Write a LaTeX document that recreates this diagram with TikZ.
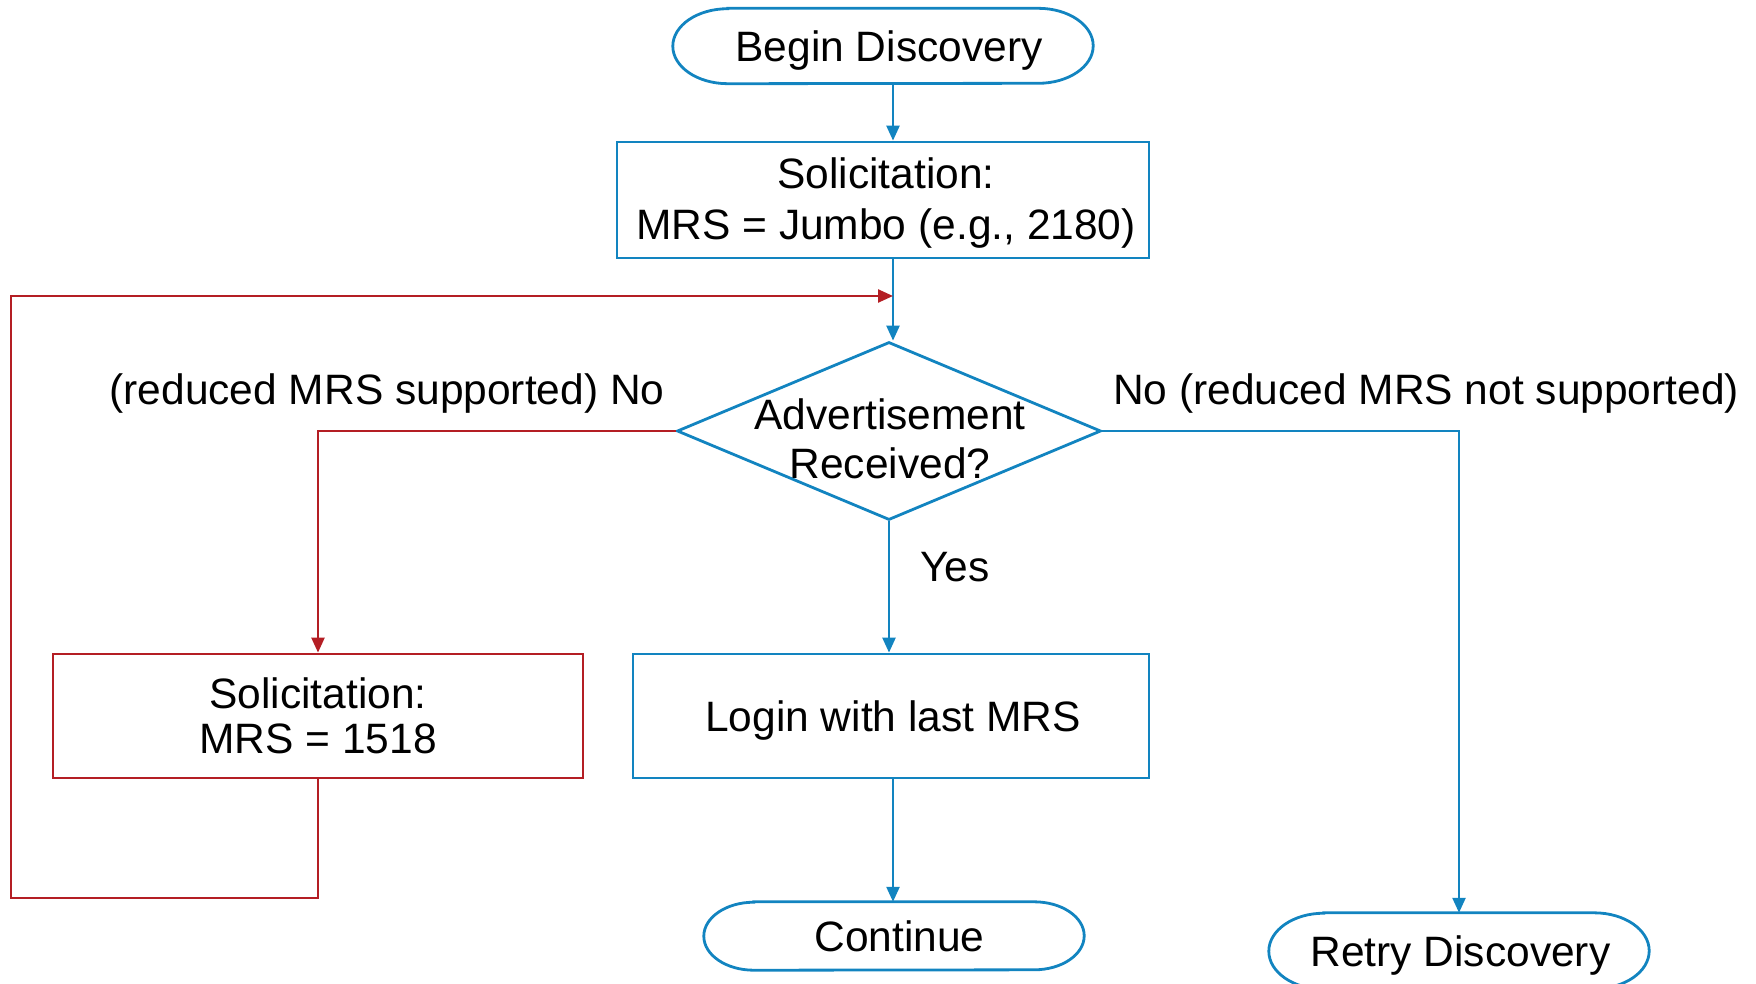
\documentclass[tikz,border=0pt]{standalone}
\usepackage{fontspec}
\setmainfont{Liberation Sans}
\usetikzlibrary{arrows.meta,calc,shapes.geometric}
\definecolor{fblue}{RGB}{18,132,192}
\definecolor{fred}{RGB}{180,30,36}
\tikzset{
  every node/.style={font=\fontsize{42.5}{51}\selectfont, inner sep=0pt},
  caps/.style={text height=31pt, text depth=0pt},
  bline/.style={draw=fblue, line width=2.8pt},
  rline/.style={draw=fred, line width=2.8pt},
  bconn/.style={draw=fblue, line width=2.4pt},
  rconn/.style={draw=fred, line width=2.4pt},
  barrow/.style={bconn, -{Triangle[length=15pt,width=13pt]}},
  rarrow/.style={rconn, -{Triangle[length=15pt,width=13pt]}},
  bbox/.style={bline, rectangle, align=center},
  rbox/.style={rline, rectangle, align=center},
}
\newcommand\mystadium[3]{%
  \draw[bline] ($(#1.north west)+(#2,0)$) -- ($(#1.north east)+(-#2,0)$)
    arc[start angle=90,end angle=-90,x radius=#2,y radius=#3]
    -- ($(#1.south west)+(#2,0)$)
    arc[start angle=270,end angle=90,x radius=#2,y radius=#3] -- cycle;}
\begin{document}
\begin{tikzpicture}[x=1pt,y=1pt]
\useasboundingbox (0,0) rectangle (1756,-983);
\clip (0,0) rectangle (1756,-983);
% nodes
\node (begin) [caps, minimum width=420pt, minimum height=75pt] at (883,-46) {\hspace*{12pt}Begin Discovery};
\mystadium{begin}{55}{37.5}
\node (sol1) [bbox, minimum width=532pt, minimum height=116pt] at (883,-200) {};
\node (sol1t) [align=center] at ($(sol1.center)+(3,-3)$) {Solicitation:\\MRS = Jumbo (e.g., 2180)};
\coordinate (merge) at (893,-296);
\node (dec) [diamond, bline, minimum width=424pt, minimum height=178pt] at (889,-431) {};
\node (dect) [align=center, font=\fontsize{42.5}{49}\selectfont] at (890,-439) {Advertisement\\Received?};
\node (lno) [caps] at (387,-389) {(reduced MRS supported) No};
\node (rno) [caps] at (1426,-389) {No (reduced MRS not supported)};
\node (red) [rbox, minimum width=530pt, minimum height=124pt, font=\fontsize{42.5}{45}\selectfont] at (318,-716) {Solicitation:\\MRS = 1518};
\node (login) [bbox, caps, minimum width=516pt, minimum height=124pt] at (891,-716) {\hspace*{4pt}Login with last MRS};
\node (yes) [caps] at (955,-566) {Yes};
\node (cont) [caps, minimum width=380pt, minimum height=68pt] at (894,-936) {\hspace*{11pt}Continue};
\mystadium{cont}{50}{34}
\node (retry) [caps, minimum width=380pt, minimum height=76pt] at (1459,-951) {\hspace*{3pt}Retry Discovery};
\mystadium{retry}{55}{38}
\coordinate (loopc) at (11,-898);
% connectors
\draw[barrow] ([xshift=10pt]begin.south) -- ([xshift=10pt]begin.south |- sol1.north);
\draw[barrow] ([xshift=10pt]sol1.south) -- ([xshift=10pt]sol1.south |- dec.north);
\draw[rarrow] (dec.west) -| (red.north);
\draw[rarrow] (red.south) |- (loopc) |- (merge);
\draw[barrow] (dec.south) -- (dec.south |- login.north);
\draw[barrow] ([xshift=2pt]login.south) -- ([xshift=2pt]login.south |- cont.north);
\draw[barrow] (dec.east) -| (retry.north);
\end{tikzpicture}
\end{document}
